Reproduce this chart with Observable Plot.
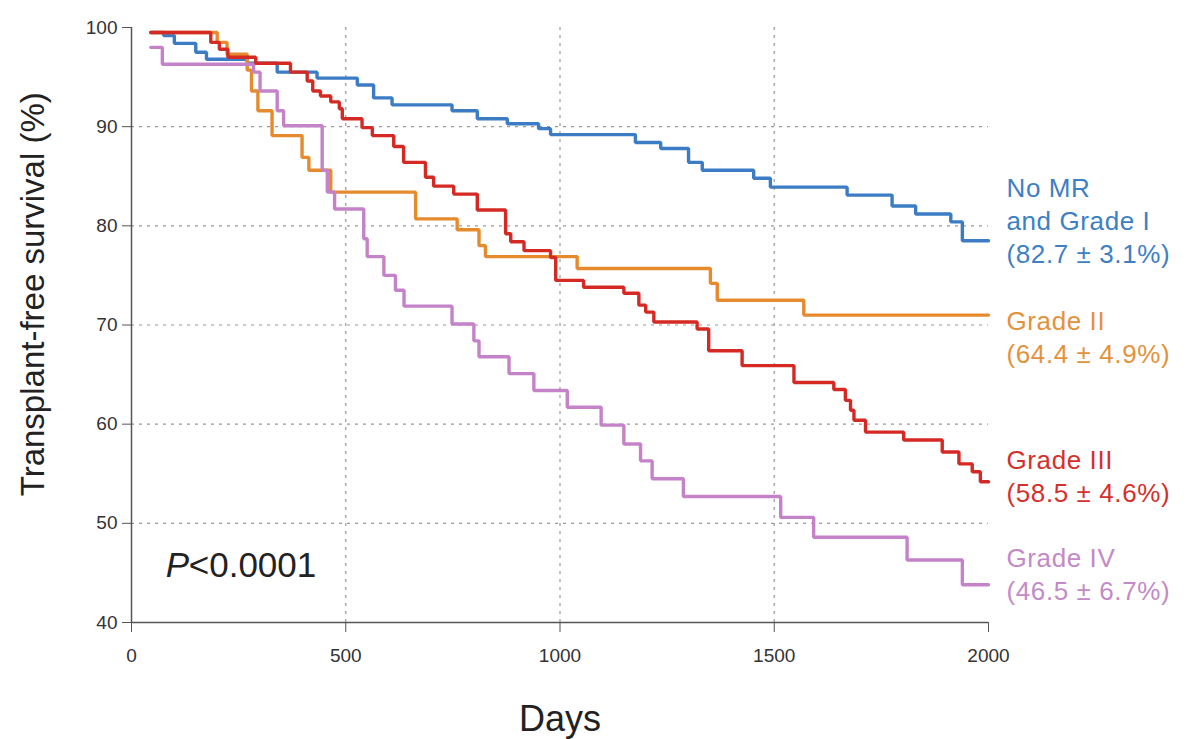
<!DOCTYPE html>
<html>
<head>
<meta charset="utf-8">
<script src="https://cdn.jsdelivr.net/npm/d3@7"></script>
<script src="https://cdn.jsdelivr.net/npm/@observablehq/plot@0.6"></script>
<style>
  html, body { margin: 0; padding: 0; background: #fff; }
  #chart { width: 1186px; height: 739px; }
  svg { font-family: "Liberation Sans", Arial, sans-serif; }
</style>
</head>
<body>
<div id="chart"></div>
<script>
// ---- data ----
const groups = ["No MR and Grade I", "Grade II", "Grade III", "Grade IV"];
const colors = ["#3b7cc4", "#e68a2e", "#d52a24", "#c483c8"];
const labelColors = ["#3d80c4", "#e3923c", "#d4302c", "#c38ac7"];
const labelTexts = ["No MR\nand Grade I\n(82.7 ± 3.1%)", "Grade II\n(64.4 ± 4.9%)", "Grade III\n(58.5 ± 4.6%)", "Grade IV\n(46.5 ± 6.7%)"];
const labelAnchorY = [80.6, 68.9, 54.9, 45.0];

const blueDays = [45,75,100,150,175,270,340,433,527,565,608,748,807,877,950,978,1176,1235,1300,1332,1452,1491,1670,1775,1830,1912,1939,2000];
const blueSurv = [99.5,99.2,98.4,97.5,96.8,96.4,95.5,94.9,94.2,92.9,92.2,91.6,90.8,90.3,89.8,89.2,88.4,87.8,86.4,85.6,84.8,83.9,83.1,82.0,81.2,80.4,78.5,78.5];

const orangeDays = [45,200,223,270,280,295,328,398,414,465,663,760,811,826,1040,1351,1367,1569,2000];
const orangeSurv = [99.5,98.5,97.3,95.7,93.6,91.6,89.1,86.9,85.6,83.4,80.7,79.6,78.0,76.9,75.7,74.2,72.5,71.0,71.0];

const redDays = [45,185,205,225,290,371,410,423,441,465,485,492,538,562,612,635,686,705,752,807,873,885,916,978,990,1055,1149,1184,1200,1219,1320,1347,1425,1546,1639,1666,1678,1686,1713,1802,1892,1931,1962,1981,2000];
const redSurv = [99.5,98.5,97.8,97.0,96.4,95.5,94.6,93.6,93.1,92.5,91.8,90.8,89.9,89.1,88.0,86.4,84.9,84.0,83.2,81.6,79.2,78.4,77.5,76.8,74.5,73.8,73.2,72.0,71.3,70.3,69.6,67.4,65.9,64.2,63.5,62.4,61.4,60.4,59.2,58.4,57.2,56.0,55.2,54.2,54.2];

const purpleDays = [45,72,285,300,340,355,445,457,474,542,550,589,616,636,748,799,811,881,939,1017,1096,1149,1188,1215,1288,1515,1592,1810,1939,2000];
const purpleSurv = [98.0,96.3,95.5,93.6,91.6,90.1,85.6,83.4,81.7,78.7,76.9,75.0,73.5,71.9,70.1,68.4,66.8,65.1,63.4,61.7,59.9,58.0,56.3,54.5,52.7,50.6,48.6,46.3,43.8,43.8];

const xTicks = [0, 500, 1000, 1500, 2000];
const yTicks = [40, 50, 60, 70, 80, 90, 100];
const xGrid = [500, 1000, 1500];
const yGrid = [50, 60, 70, 80, 90];
const xLabel = "Days";
const yLabel = "Transplant-free survival (%)";
const yLabelAt = 73.1;
const pText = ["P", "<0.0001"];
const pPos = {x: 80, y: 45.7};

// ---- build table ----
const seriesDays = [blueDays, orangeDays, redDays, purpleDays];
const seriesSurv = [blueSurv, orangeSurv, redSurv, purpleSurv];
const rows = [];
groups.forEach((g, i) => seriesDays[i].forEach((d, j) => rows.push({group: g, day: d, surv: seriesSurv[i][j]})));
const drawOrder = [0, 1, 3, 2];
const labels = groups.map((g, i) => ({group: g, text: labelTexts[i], y: labelAnchorY[i], color: labelColors[i]}));

const font = "'Liberation Sans', Arial, sans-serif";

const chart = Plot.plot({
  width: 1186,
  height: 739,
  marginLeft: 131,
  marginRight: 198,
  marginTop: 27,
  marginBottom: 117,
  style: {fontFamily: font, background: "#fff"},
  x: {domain: [0, 2000]},
  y: {domain: [40, 100]},
  marks: [
    Plot.gridY(yGrid, {stroke: "#9a9a9a", strokeOpacity: 1, strokeWidth: 1.2, strokeDasharray: "3,5"}),
    Plot.gridX(xGrid, {stroke: "#9a9a9a", strokeOpacity: 1, strokeWidth: 1.2, strokeDasharray: "3,5"}),
    Plot.ruleX([0], {y1: 40, y2: 100, stroke: "#555", strokeWidth: 1.5}),
    Plot.ruleY([40], {x1: 0, x2: 2000, stroke: "#555", strokeWidth: 1.5}),
    Plot.axisY(yTicks, {tickSize: 9, tickPadding: 5, fontSize: 19, color: "#333", stroke: "#555", label: null, tickFormat: d3.format("d")}),
    Plot.axisX(xTicks, {tickSize: 10, tickPadding: 16, fontSize: 19, color: "#333", stroke: "#555", label: null, tickFormat: d3.format("d")}),
    ...drawOrder.map(i => Plot.line(rows.filter(r => r.group === groups[i]), {
      x: "day", y: "surv", curve: "step-after", stroke: colors[i], strokeWidth: 3.4, strokeLinejoin: "miter"
    })),
    Plot.text(labels, {x: () => 2000, y: "y", text: "text", fill: "color", dx: 18, textAnchor: "start",
      lineAnchor: "middle", lineHeight: 1.27, fontSize: 26, clip: false}),
    Plot.text([pText[0]], {x: () => pPos.x, y: () => pPos.y, text: d => d, fontSize: 35, fontStyle: "italic",
      textAnchor: "start", fill: "#222"}),
    Plot.text([pText[1]], {x: () => pPos.x, y: () => pPos.y, text: d => d, fontSize: 35, dx: 23,
      textAnchor: "start", fill: "#222"}),
    Plot.text([yLabel], {frameAnchor: "left", y: () => yLabelAt, text: d => d, rotate: -90, dx: -98,
      textAnchor: "middle", fontSize: 33, fill: "#222"}),
    Plot.text([xLabel], {frameAnchor: "bottom", text: d => d, dy: 108, fontSize: 36, fill: "#222"})
  ]
});
// small letter spacing on the series labels to match the reference's wider type
const textGroups = chart.querySelectorAll('g[aria-label="text"]');
if (textGroups.length) textGroups[0].setAttribute("letter-spacing", "0.6");
document.getElementById("chart").appendChild(chart);
</script>
</body>
</html>
